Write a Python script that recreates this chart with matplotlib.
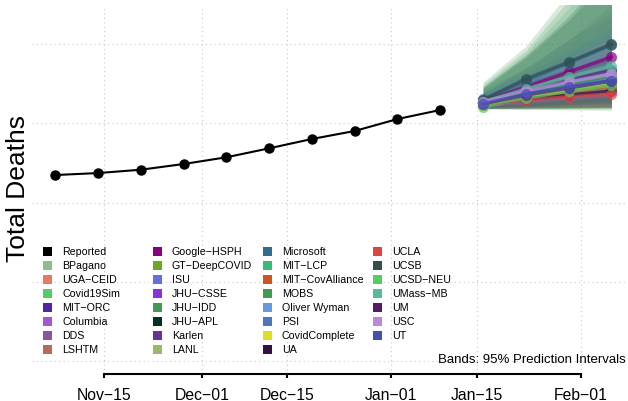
import matplotlib
matplotlib.use("Agg")
import matplotlib.pyplot as plt
import matplotlib.dates as mdates
from matplotlib.patches import Rectangle
import numpy as np

plt.rcParams['font.family'] = ['Liberation Sans', 'DejaVu Sans']

# reported weekly totals
reported_dates = np.array(['2020-11-07', '2020-11-14', '2020-11-21', '2020-11-28', '2020-12-05',
                           '2020-12-12', '2020-12-19', '2020-12-26', '2021-01-02', '2021-01-09'],
                          dtype='datetime64[D]')
reported = [23470, 23720, 24140, 24860, 25710, 26840, 28020, 29030, 30540, 31680]

forecast_dates = np.array(['2021-01-16', '2021-01-23', '2021-01-30', '2021-02-06'], dtype='datetime64[D]')

models = ['BPagano', 'UGA\u2212CEID', 'Covid19Sim', 'MIT\u2212ORC', 'Columbia', 'DDS', 'LSHTM',
          'Google\u2212HSPH', 'GT\u2212DeepCOVID', 'ISU', 'JHU\u2212CSSE', 'JHU\u2212IDD', 'JHU\u2212APL',
          'Karlen', 'LANL', 'Microsoft', 'MIT\u2212LCP', 'MIT\u2212CovAlliance', 'MOBS', 'Oliver Wyman',
          'PSI', 'CovidComplete', 'UA', 'UCLA', 'UCSB', 'UCSD\u2212NEU', 'UMass\u2212MB', 'UM', 'USC', 'UT']

colors = ['#8fbc8f', '#e07b6a', '#55cc66', '#5522a0', '#a855d0', '#8a55a0', '#b86a5a',
          '#880080', '#6aaa22', '#6670dd', '#8833e0', '#449955', '#003322',
          '#663399', '#9cb86a', '#2e6e8e', '#3cbb78', '#cc5522', '#449955', '#6699e0',
          '#4a78bb', '#dde022', '#331144', '#dd4444', '#2f5050', '#55cc66', '#55bb99', '#551a66', '#bb88dd', '#4450b0']

point_est = [
    [32690, 33570, 34450, 35340],
    [32560, 33320, 34070, 34830],
    [32060, 33190, 33950, 34580],
    [32690, 34070, 35460, 36600],
    [32560, 33700, 34960, 36220],
    [32560, 33440, 34330, 35080],
    [32560, 33190, 33820, 34330],
    [32810, 34580, 36470, 38370],
    [32690, 33570, 34450, 35210],
    [32430, 33440, 34450, 35460],
    [32690, 33950, 35210, 36470],
    [32810, 34070, 35340, 36470],
    [32690, 33700, 34710, 35590],
    [32690, 34070, 35460, 36720],
    [32560, 33440, 34330, 35080],
    [33060, 35340, 37610, 39880],
    [32560, 33820, 35080, 36220],
    [32560, 33320, 34070, 34710],
    [32690, 33700, 34830, 35840],
    [32560, 33570, 34580, 35590],
    [32560, 33570, 34580, 35460],
    [32560, 33440, 34330, 35210],
    [32430, 33060, 33570, 34070],
    [32310, 32940, 33320, 33700],
    [32940, 35590, 37730, 40000],
    [32310, 33190, 34070, 34830],
    [32690, 34330, 35840, 37230],
    [32560, 33570, 34450, 35340],
    [32690, 34070, 35210, 36220],
    [32430, 33700, 34580, 35340],
]

lower_95 = [
    [32100, 32300, 32500, 32700],
    [32000, 32100, 32200, 32300],
    [31850, 31900, 32000, 32100],
    [32300, 33000, 33700, 34300],
    [31900, 32000, 32200, 32400],
    [31900, 31950, 32000, 32100],
    [31850, 31800, 31800, 31800],
    [32000, 32500, 33000, 33600],
    [31900, 31900, 31900, 31950],
    [31950, 32000, 32100, 32200],
    [32100, 32400, 32800, 33200],
    [31800, 31750, 31700, 31650],
    [32100, 32300, 32600, 32900],
    [32300, 33000, 33600, 34200],
    [31900, 32000, 32100, 32200],
    [31900, 32200, 32600, 33000],
    [31850, 31850, 31850, 31850],
    [32000, 32100, 32200, 32300],
    [31900, 31900, 31950, 32000],
    [32150, 32600, 33100, 33500],
    [31950, 32000, 32050, 32100],
    [32100, 32300, 32500, 32700],
    [31900, 31900, 31950, 32000],
    [31950, 32000, 32050, 32100],
    [31900, 32100, 32400, 32700],
    [31950, 32000, 32100, 32200],
    [31950, 32100, 32300, 32500],
    [32000, 32100, 32300, 32500],
    [32100, 32500, 32900, 33300],
    [32000, 32300, 32600, 32900],
]

upper_95 = [
    [33400, 34900, 36500, 38300],
    [33300, 34700, 36300, 38000],
    [32900, 34600, 36200, 37600],
    [33100, 35200, 37300, 39100],
    [34000, 36800, 40000, 43500],
    [33800, 36000, 38500, 41000],
    [34300, 37000, 40500, 45000],
    [33800, 37000, 40500, 44000],
    [34700, 38500, 43000, 48000],
    [33600, 35600, 37800, 40200],
    [33500, 35800, 38200, 40800],
    [35200, 39750, 46500, 58000],
    [33400, 35200, 37000, 38600],
    [33100, 35200, 37400, 39300],
    [33400, 35300, 37300, 39500],
    [34400, 38200, 43000, 49000],
    [34600, 38800, 44500, 52000],
    [33200, 34700, 36100, 37400],
    [34900, 39200, 45500, 54000],
    [33000, 34500, 36100, 37700],
    [33900, 36300, 39000, 42000],
    [33100, 34700, 36300, 37900],
    [33200, 34500, 35700, 36800],
    [32700, 33800, 34700, 35400],
    [34500, 38500, 43500, 49500],
    [32800, 34400, 36200, 37800],
    [34100, 37000, 40200, 44000],
    [33300, 35000, 36800, 38700],
    [33400, 35800, 38200, 40800],
    [33000, 35200, 36900, 38400],
]

tick_dates = np.array(['2020-11-15', '2020-12-01', '2020-12-15', '2021-01-01', '2021-01-15', '2021-02-01'],
                      dtype='datetime64[D]')
tick_labels = ['Nov\u221215', 'Dec\u221201', 'Dec\u221215', 'Jan\u221201', 'Jan\u221215', 'Feb\u221201']
grid_values = [0, 10000, 20000, 30000, 40000]

W, H = 628, 402
fig = plt.figure(figsize=(W / 100, H / 100), dpi=100)
ax = fig.add_axes([32 / W, 1 - 375 / H, 1 - 32 / W, (375 - 6) / H])

# each model: median line, then its band on top (later bands mute earlier lines)
for i in range(len(models)):
    ax.plot(forecast_dates, point_est[i], '-o', color=colors[i], alpha=0.7, lw=2.5, ms=8, mew=0)
    ax.fill_between(forecast_dates, lower_95[i], upper_95[i], color=colors[i], alpha=0.2, lw=0)

ax.plot(reported_dates, reported, '-o', color='black', lw=1.5, ms=6.5, zorder=10)

ax.set_xlim(np.datetime64('2020-11-03T05'), np.datetime64('2021-02-08T17'))
ax.set_ylim(-1640, 44930)

ax.set_xticks(tick_dates)
ax.set_xticklabels(tick_labels, fontsize=11.3)
ax.set_yticks(grid_values)
ax.set_yticklabels([])
ax.tick_params(axis='y', length=0)
ax.tick_params(axis='x', length=3, width=1.5, pad=6.5)
ax.grid(True, linestyle=(0, (1, 3)), color='#c8c8c8', lw=0.8)
ax.set_axisbelow(True)

for s in ['top', 'right', 'left']:
    ax.spines[s].set_visible(False)
ax.spines['bottom'].set_linewidth(1.5)
ax.spines['bottom'].set_bounds(mdates.date2num(tick_dates[0]), mdates.date2num(tick_dates[-1]))

fig.text(18 / W, 1 - 189 / H, 'Total Deaths', rotation=90, fontsize=19, ha='center', va='center')

# legend laid out in 4 columns of 8 rows
leg_labels = ['Reported'] + models
leg_colors = ['black'] + colors
for k, (lab, col) in enumerate(zip(leg_labels, leg_colors)):
    c, r = divmod(k, 8)
    x0 = 43 + 110 * c
    yc = 252 + 14 * r
    fig.patches.append(Rectangle((x0 / W, 1 - (yc + 4.5) / H), 9 / W, 9 / H,
                                 transform=fig.transFigure, color=col, lw=0))
    fig.text((x0 + 19) / W, 1 - yc / H, lab, fontsize=7.7, ha='left', va='center')

fig.text(626 / W, 1 - 360 / H, 'Bands: 95% Prediction Intervals', fontsize=9.5, ha='right', va='center')

fig.savefig('out.png', dpi=100)
